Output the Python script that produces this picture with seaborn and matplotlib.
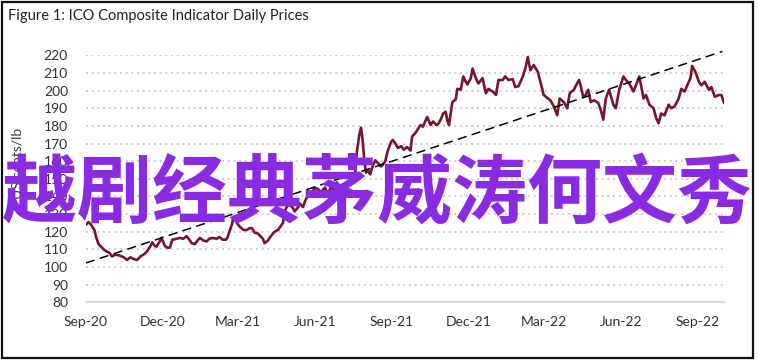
import matplotlib
matplotlib.use("Agg")
import matplotlib.pyplot as plt
import matplotlib.dates as mdates
from matplotlib.patches import Rectangle
import numpy as np
import pandas as pd
import seaborn as sns

# ---------------- data ----------------
start_date = "2020-09-01"
day_offsets = [0, 3, 6, 10, 12, 15, 17, 21, 24, 28, 31, 35, 40, 45, 49, 53, 57, 61, 65, 70,
               73, 77, 79, 82, 84, 88, 90, 94, 97, 100, 103, 108, 112, 116, 120, 124, 126, 130, 133, 136,
               140, 144, 147, 151, 156, 159, 163, 167, 169, 171, 174, 176, 180, 183, 188, 192, 195, 198, 201, 205,
               207, 211, 213, 217, 219, 223, 225, 229, 232, 235, 237, 241, 243, 246, 249, 253, 255, 259, 261, 263,
               267, 269, 273, 277, 279, 281, 285, 289, 292, 296, 299, 303, 307, 310, 314, 317, 321, 323, 326, 328,
               330, 332, 334, 336, 339, 341, 345, 348, 352, 354, 357, 360, 364, 366, 369, 372, 376, 379, 383, 387,
               389, 393, 395, 399, 402, 405, 407, 411, 414, 418, 420, 423, 426, 429, 431, 433, 437, 441, 443, 447,
               450, 453, 455, 459, 461, 465, 468, 473, 477, 480, 483, 485, 489, 492, 497, 500, 504, 509, 512, 516,
               521, 524, 527, 530, 534, 539, 542, 546, 551, 554, 558, 562, 565, 570, 574, 577, 582, 584, 588, 590,
               593, 596, 599, 602, 606, 611, 614, 617, 620, 624, 629, 632, 636, 641, 644, 648, 653, 656, 660, 665,
               668, 672, 677, 680, 683, 686, 690, 695, 698, 702, 707, 710, 714, 719, 721, 723, 727, 731, 734, 738,
               743, 746, 750, 755, 758, 761]
prices = [124, 125.5, 124, 121, 117, 113, 112, 110, 109, 108, 106, 107, 106.5, 105.5, 104, 105.5, 104.5, 104, 106, 107.5,
          109, 112, 114, 112, 111.5, 114.5, 116.5, 112, 111, 111, 115.5, 116, 116.5, 116, 117.5, 115, 113.5, 113, 115, 116.5,
          115, 114.5, 116, 116.5, 116, 117, 115.5, 115.5, 117, 120, 124, 128.5, 125, 123, 121, 121, 122, 122, 119.5, 119,
          118, 116, 113.5, 115, 116.5, 119, 120, 121, 123, 125, 131.5, 135.5, 135, 134, 131.5, 134, 136, 134, 137, 139,
          141, 142, 145, 144, 143, 143, 145, 141, 146, 143, 148, 145, 147, 144, 148, 149, 152, 165, 175, 179,
          172, 160, 153.5, 155, 152.5, 156, 160.5, 159, 157, 158, 160, 166, 171, 172, 170, 167.5, 168.5, 166.5, 168, 166,
          174, 176, 177.5, 180.5, 179.5, 183, 185, 180.5, 182.5, 180.5, 181, 183.5, 187, 188, 183, 180.5, 193.5, 195, 201, 200.5,
          208, 205, 203.5, 207, 212.5, 207, 204, 207, 198.5, 201, 200, 199.5, 197.5, 206, 206, 208, 206, 206.5, 202, 202.5,
          208, 212.5, 219, 211.5, 214.5, 210.5, 205, 197.5, 195.5, 194.5, 191, 186, 195.5, 193.5, 190, 198.5, 200.5, 202.5, 206, 203,
          196.5, 197.5, 200.5, 193.5, 194.5, 193, 189, 183.5, 195.5, 200.5, 192, 190, 200.5, 208, 206, 204, 199.5, 203, 208, 195.5,
          197.5, 192, 190, 184.5, 181.5, 187, 186, 192, 190, 191, 195.5, 201, 199.5, 205, 207, 214, 210.5, 205, 203, 205,
          200.5, 202, 196.5, 197.5, 197.5, 193]
trend_dates = ["2020-09-01", "2022-09-30"]
trend_values = [102.3, 222.2]

title = "Figure 1: ICO Composite Indicator Daily Prices"
y_label = "US cents/lb"
overlay = "越剧经典茅威涛何文秀"

# ---------------- figure ----------------
sns.set_theme(style="white")
plt.rcParams["font.family"] = ["Lato", "DejaVu Sans"]

W, H = 758, 363
fig = plt.figure(figsize=(W / 100, H / 100), dpi=100)
ax = fig.add_axes([86 / W, 1 - 302.3 / H, (724 - 86) / W, (302.3 - 55.3) / H])

df = pd.DataFrame({
    "date": pd.Timestamp(start_date) + pd.to_timedelta(day_offsets, unit="D"),
    "price": prices,
})
sns.lineplot(data=df, x="date", y="price", ax=ax, color="#76162C", linewidth=1.9, zorder=3)

tdf = pd.DataFrame({"date": pd.to_datetime(trend_dates), "value": trend_values})
ax.plot(tdf["date"], tdf["value"], color="black", linewidth=1.1, dashes=(6, 3.5),
        clip_on=False, zorder=4)

ax.set_xlim(pd.Timestamp("2020-09-01"), pd.Timestamp("2022-10-02"))
ax.set_ylim(80, 220)
ax.set_yticks(np.arange(80, 221, 10))
ax.xaxis.set_major_locator(mdates.MonthLocator(bymonth=[3, 6, 9, 12]))
ax.xaxis.set_major_formatter(mdates.DateFormatter("%b-%y"))

for v in range(90, 221, 10):
    ax.axhline(v, color="#c8c8c8", linewidth=1.2, linestyle=(0, (1.2, 2.2)), zorder=1)

for s in ["top", "right", "left"]:
    ax.spines[s].set_visible(False)
ax.spines["bottom"].set_color("#d9d9d9")
ax.spines["bottom"].set_linewidth(1.6)

ax.tick_params(axis="both", length=0, labelsize=10, colors="#333333")
ax.tick_params(axis="y", pad=13)
ax.tick_params(axis="x", pad=10)
ax.set_xlabel("")
ax.set_ylabel("")
ax.set_facecolor("white")

fig.text(17 / W, 1 - 163 / H, y_label, rotation=90, ha="center", va="center",
         fontsize=10, color="#404040")
fig.text(8 / W, 1 - 16 / H, title, ha="left", va="center", fontsize=10.5, color="#222222")

fig.add_artist(Rectangle((2 / W, 1 - 358 / H), (753 - 2) / W, (358 - 2) / H,
                         transform=fig.transFigure, fill=False, edgecolor="#111111",
                         linewidth=1.6))

fig.text(377 / W, 1 - 195 / H, overlay, ha="center", va="center", fontsize=54,
         fontweight="bold", color="#8A2BE2", family=["Noto Sans CJK SC", "DejaVu Sans"],
         zorder=10)

fig.savefig("out.png", dpi=100, facecolor="white")
